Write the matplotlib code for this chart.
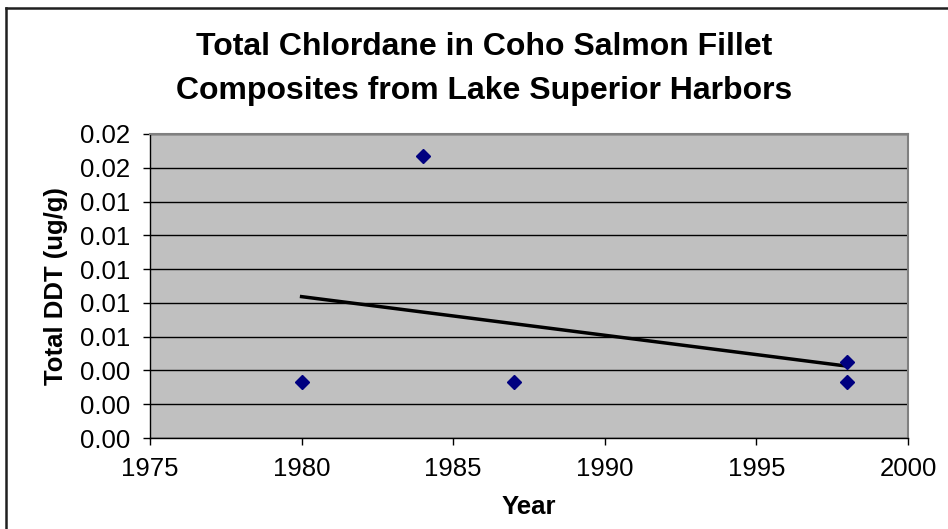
import numpy as np
import matplotlib.pyplot as plt
from matplotlib.ticker import FormatStrFormatter, MultipleLocator
from matplotlib.lines import Line2D

plt.rcParams['font.family'] = ['Liberation Sans', 'DejaVu Sans']

# data
years = [1980, 1984, 1987, 1998, 1998]
chlordane = [0.0033, 0.0167, 0.0033, 0.0045, 0.0033]

# linear trendline (like Excel's)
slope, intercept = np.polyfit(years, chlordane, 1)
trend_x = np.array([min(years), max(years)])
trend_y = slope * trend_x + intercept

fig = plt.figure(figsize=(9.48, 5.29), dpi=100)
ax = fig.add_axes([150/948, 1-438/529, (908-150)/948, (438-134)/529])
ax.set_facecolor('#C0C0C0')

ax.plot(trend_x, trend_y, color='black', lw=2.5, zorder=3)
ax.plot(years, chlordane, linestyle='none', marker='D', ms=7,
        color='#000080', zorder=4, clip_on=False)

ax.set_xlim(1975, 2000)
ax.set_ylim(0, 0.018)
ax.xaxis.set_major_locator(MultipleLocator(5))
ax.yaxis.set_major_locator(MultipleLocator(0.002))
ax.yaxis.set_major_formatter(FormatStrFormatter('%.2f'))
ax.grid(axis='y', color='black', lw=1)
ax.set_axisbelow(True)

ax.tick_params(direction='out', length=5, width=1, labelsize=18.5,
               colors='black')
ax.tick_params(axis='x', pad=9)
ax.tick_params(axis='y', pad=9)
for s in ['top', 'right']:
    ax.spines[s].set_color('#808080')
    ax.spines[s].set_linewidth(1.5)
for s in ['left', 'bottom']:
    ax.spines[s].set_color('black')
    ax.spines[s].set_linewidth(1)

ax.set_xlabel('Year', fontsize=18.5, fontweight='bold', labelpad=10)
ax.set_ylabel('Total DDT (ug/g)', fontsize=18.5, fontweight='bold', labelpad=9)

fig.text(484/948, 1-69/529, 'Total Chlordane in Coho Salmon Fillet\nComposites from Lake Superior Harbors',
         ha='center', va='center', fontsize=23, fontweight='bold', linespacing=1.65)

# chart border (only left and top are inside the picture)
fig.add_artist(Line2D([6/948, 6/948], [0, 1-8/529], color='#202020', lw=1.8,
                      transform=fig.transFigure))
fig.add_artist(Line2D([6/948, 1], [1-8/529, 1-8/529], color='#202020', lw=1.8,
                      transform=fig.transFigure))

fig.savefig('out.png', dpi=100)
